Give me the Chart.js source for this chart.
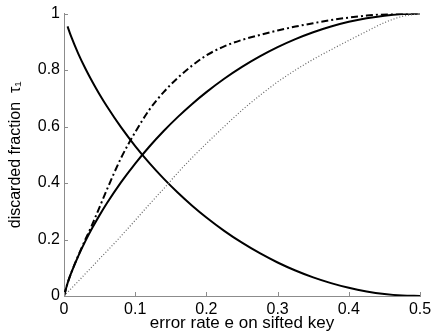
<!DOCTYPE html>
<html>
<head>
<meta charset="utf-8">
<script src="https://cdn.jsdelivr.net/npm/chart.js@4/dist/chart.umd.min.js"></script>
<style>
  html, body { margin: 0; padding: 0; background: #fff; }
  #wrap { width: 436px; height: 334px; }
</style>
</head>
<body>
<div id="wrap"><canvas id="tau-chart" width="436" height="334"></canvas></div>
<script>
// Error rate grid (x)
let errorRate = [0, 0.005, 0.01, 0.02, 0.03, 0.04, 0.05, 0.06, 0.08, 0.1, 0.12, 0.14, 0.16, 0.18, 0.2,
    0.225, 0.25, 0.275, 0.3, 0.325, 0.35, 0.375, 0.4, 0.425, 0.45, 0.475, 0.5];

// rising solid curve
let tauSolid = [0, 0.0454, 0.0808, 0.1414, 0.1944, 0.2423, 0.2864, 0.3274, 0.4022, 0.469, 0.5294, 0.5842, 0.6343, 0.6801, 0.7219,
    0.7692, 0.8113, 0.8485, 0.8813, 0.9097, 0.9341, 0.9544, 0.971, 0.9837, 0.9928, 0.9982, 1];

// falling solid curve (starts at e = 0.005)
let tauFalling = [null, 0.9546, 0.9192, 0.8586, 0.8056, 0.7577, 0.7136, 0.6726, 0.5978, 0.531, 0.4706, 0.4158, 0.3657, 0.3199, 0.2781,
    0.2308, 0.1887, 0.1515, 0.1187, 0.0903, 0.0659, 0.0456, 0.029, 0.0163, 0.0072, 0.0018, 0];

// dash-dot curve
let tauDashDot = [0, 0.045, 0.081, 0.143, 0.2, 0.255, 0.315, 0.375, 0.488, 0.58, 0.66, 0.722, 0.773, 0.816, 0.852,
    0.884, 0.907, 0.924, 0.94, 0.954, 0.966, 0.977, 0.986, 0.993, 0.998, 1, 1];

// dotted curve
let tauDotted = [0, 0.013, 0.026, 0.052, 0.079, 0.105, 0.132, 0.158, 0.212, 0.268, 0.325, 0.38, 0.437, 0.49, 0.54,
    0.6, 0.658, 0.71, 0.758, 0.8, 0.838, 0.872, 0.905, 0.937, 0.968, 0.99, 1];

let xTicks = [0, 0.1, 0.2, 0.3, 0.4, 0.5];
let yTicks = [0, 0.2, 0.4, 0.6, 0.8, 1];

function pts(ys) {
    return errorRate.map((e, i) => ({ x: e, y: ys[i] })).filter(p => p.y !== null);
}

Chart.defaults.font.family = "'Liberation Sans', Arial, sans-serif";
Chart.defaults.color = '#000';

// small inward tick marks like the original
const innerTicks = {
    id: 'innerTicks',
    afterDraw(chart) {
        const ctx = chart.ctx;
        const xs = chart.scales.x, ys = chart.scales.y;
        const area = chart.chartArea;
        ctx.save();
        ctx.strokeStyle = '#8c8c8c';
        ctx.lineWidth = 1;
        ctx.beginPath();
        xTicks.forEach(v => {
            const px = Math.round(xs.getPixelForValue(v)) + 0.5;
            ctx.moveTo(px, area.bottom);
            ctx.lineTo(px, area.bottom - 4);
        });
        yTicks.forEach(v => {
            const py = Math.round(ys.getPixelForValue(v)) + 0.5;
            ctx.moveTo(area.left, py);
            ctx.lineTo(area.left + 4, py);
        });
        ctx.stroke();
        ctx.restore();
    }
};

const lineBase = { showLine: true, pointRadius: 0, fill: false, cubicInterpolationMode: 'monotone' };

var ctx = document.getElementById('tau-chart').getContext('2d');
var tauChart = new Chart(ctx, {
    type: 'scatter',
    data: {
        datasets: [
            Object.assign({ label: 'dotted', data: pts(tauDotted), borderColor: '#666', borderWidth: 1.2, borderDash: [1, 2] }, lineBase),
            Object.assign({ label: 'dash-dot', data: pts(tauDashDot), borderColor: '#000', borderWidth: 2, borderDash: [7, 3, 2, 3] }, lineBase),
            Object.assign({ label: 'rising', data: pts(tauSolid), borderColor: '#000', borderWidth: 2 }, lineBase),
            Object.assign({ label: 'falling', data: pts(tauFalling), borderColor: '#000', borderWidth: 2 }, lineBase)
        ]
    },
    options: {
        responsive: false,
        animation: false,
        layout: { padding: { left: 0, right: 16, top: 11, bottom: 0 } },
        plugins: { legend: { display: false }, tooltip: { enabled: false } },
        scales: {
            x: {
                type: 'linear', min: 0, max: 0.5,
                afterBuildTicks: s => { s.ticks = xTicks.map(v => ({ value: v })); },
                afterFit: s => { s.height = 38; },
                grid: { drawOnChartArea: false, drawTicks: false },
                border: { color: '#8c8c8c' },
                ticks: { padding: 4, font: { size: 16 }, callback: v => String(v) },
                title: { display: true, text: 'error rate e on sifted key', font: { size: 17 }, padding: { top: 0, bottom: 0 } }
            },
            y: {
                type: 'linear', min: 0, max: 1,
                afterBuildTicks: s => { s.ticks = yTicks.map(v => ({ value: v })); },
                afterFit: s => { s.width = 64; },
                grid: { drawOnChartArea: false, drawTicks: false },
                border: { color: '#8c8c8c' },
                ticks: { padding: 4, font: { size: 16 }, callback: v => String(v) },
                title: { display: true, text: 'discarded fraction  τ₁', font: { size: 16 }, padding: { top: 6, bottom: 0 } }
            }
        }
    },
    plugins: [innerTicks]
});
</script>
</body>
</html>
